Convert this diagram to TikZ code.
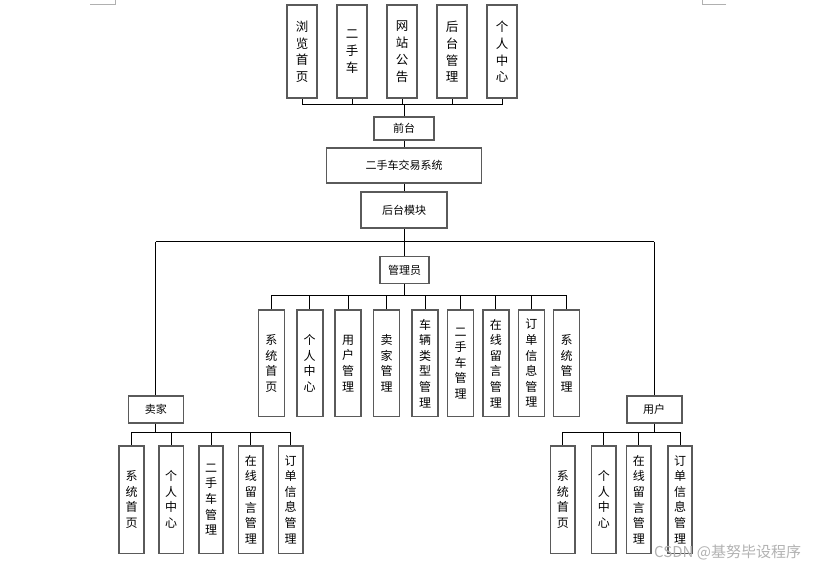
\documentclass[tikz,border=0pt]{standalone}
\usepackage{fontspec}
\newfontfamily\cjk{Noto Sans CJK SC}
\definecolor{boxline}{HTML}{5A5A5A}
\definecolor{markgray}{HTML}{B0B0B0}
\begin{document}
\begin{tikzpicture}[x=1pt,y=-1pt,
  box/.style={draw=boxline, line width=1.6pt, fill=white, inner sep=0pt,
    align=center, text=black},
  hbox/.style={box, font=\cjk\fontsize{11}{13}\selectfont},
  topcol/.style={box, minimum width=30pt, minimum height=93pt,
    font=\cjk\fontsize{12.5}{16.8}\selectfont},
  midcol/.style={box, minimum width=26pt, minimum height=106.7pt,
    font=\cjk\fontsize{12}{15.6}\selectfont},
  lowcol/.style={box, minimum width=24.5pt, minimum height=107.6pt,
    font=\cjk\fontsize{12}{15.6}\selectfont},
  link/.style={draw=black, line width=1pt}]
\useasboundingbox (0,0) rectangle (814,569);
\fill[white] (0,0) rectangle (814,569);

% page corner marks
\draw[markgray, line width=0.8pt] (90,4) -- (115,4) -- (115,0);
\draw[markgray, line width=0.8pt] (726,4) -- (702,4) -- (702,0);

% front-end modules
\node[topcol] (t1) at (302,51.8) {浏\\览\\首\\页};
\node[topcol] (t2) at (352,51.8) {二\\手\\车};
\node[topcol] (t3) at (402,51.8) {网\\站\\公\\告};
\node[topcol] (t4) at (452,51.8) {后\\台\\管\\理};
\node[topcol] (t5) at (502,51.8) {个\\人\\中\\心};

\node[hbox, minimum width=60pt, minimum height=23pt] (qt) at (404,128.7) {前台};
\node[hbox, minimum width=155pt, minimum height=35pt] (sys) at (404,165.8) {二手车交易系统};
\node[hbox, minimum width=86pt, minimum height=36pt] (ht) at (404,210.3) {后台模块};

\node[hbox, minimum width=49pt, minimum height=27pt] (adm) at (404.7,270) {管理员};
\node[hbox, minimum width=55pt, minimum height=27pt] (sel) at (155.8,409.2) {卖家};
\node[hbox, minimum width=55pt, minimum height=27pt] (usr) at (654.2,409.2) {用户};

% administrator modules
\node[midcol] (a1) at (271.4,363.3) {系\\统\\首\\页};
\node[midcol] (a2) at (309.7,363.3) {个\\人\\中\\心};
\node[midcol] (a3) at (348.1,363.3) {用\\户\\管\\理};
\node[midcol] (a4) at (386.5,363.3) {卖\\家\\管\\理};
\node[midcol] (a5) at (425.2,363.3) {车\\辆\\类\\型\\管\\理};
\node[midcol] (a6) at (460.5,363.3) {二\\手\\车\\管\\理};
\node[midcol] (a7) at (495.8,363.3) {在\\线\\留\\言\\管\\理};
\node[midcol] (a8) at (531.3,363.3) {订\\单\\信\\息\\管\\理};
\node[midcol] (a9) at (566.5,363.3) {系\\统\\管\\理};

% seller modules
\node[lowcol] (s1) at (131.5,499.5) {系\\统\\首\\页};
\node[lowcol] (s2) at (171.2,499.5) {个\\人\\中\\心};
\node[lowcol] (s3) at (211,499.5) {二\\手\\车\\管\\理};
\node[lowcol] (s4) at (250.8,499.5) {在\\线\\留\\言\\管\\理};
\node[lowcol] (s5) at (290.6,499.5) {订\\单\\信\\息\\管\\理};

% user modules
\node[lowcol] (u1) at (562.8,499.5) {系\\统\\首\\页};
\node[lowcol] (u2) at (603.8,499.5) {个\\人\\中\\心};
\node[lowcol] (u3) at (638.8,499.5) {在\\线\\留\\言\\管\\理};
\node[lowcol] (u4) at (680,499.5) {订\\单\\信\\息\\管\\理};

% bus levels
\coordinate (busT) at (0,105);
\coordinate (busM) at (0,241.7);
\coordinate (busA) at (0,295.7);
\coordinate (busL) at (0,432.3);

% front-end tree
\foreach \n in {t1,t2,t3,t4,t5}
  \draw[link] (\n.south) -- (\n.south |- busT);
\draw[link] (t1.south |- busT) -- (t5.south |- busT);
\draw[link] (qt.north) -- (qt.north |- busT);
\draw[link] (qt.south) -- (sys.north);
\draw[link] (sys.south) -- (ht.north);

% back-end branches
\draw[link] (ht.south) -- (ht.south |- busM);
\draw[link] (sel.north |- busM) -- (usr.north |- busM);
\draw[link] (sel.north |- busM) -- (sel.north);
\draw[link] (usr.north |- busM) -- (usr.north);
\draw[link] (adm.north |- busM) -- (adm.north);

% administrator tree
\draw[link] (adm.south) -- (adm.south |- busA);
\draw[link] (a1.north |- busA) -- (a9.north |- busA);
\foreach \n in {a1,a2,a3,a4,a5,a6,a7,a8,a9}
  \draw[link] (\n.north |- busA) -- (\n.north);

% seller tree
\draw[link] (sel.south) -- (sel.south |- busL);
\draw[link] (s1.north |- busL) -- (s5.north |- busL);
\foreach \n in {s1,s2,s3,s4,s5}
  \draw[link] (\n.north |- busL) -- (\n.north);

% user tree
\draw[link] (usr.south) -- (usr.south |- busL);
\draw[link] (u1.north |- busL) -- (u4.north |- busL);
\foreach \n in {u1,u2,u3,u4}
  \draw[link] (\n.north |- busL) -- (\n.north);

% watermark
\node[anchor=west, inner sep=0pt, text=black!30, font=\cjk\fontsize{15}{16}\selectfont]
  (wm) at (654,552) {CSDN @基努毕设程序};
\end{tikzpicture}
\end{document}
